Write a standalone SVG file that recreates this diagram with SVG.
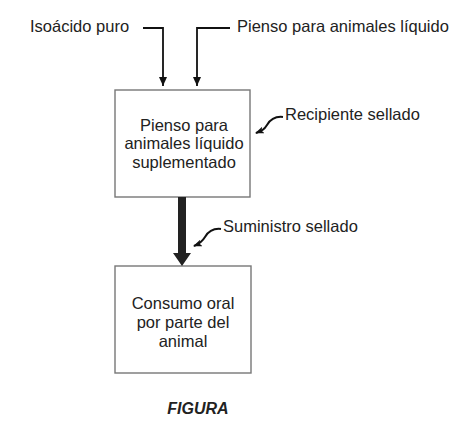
<svg xmlns="http://www.w3.org/2000/svg" width="472" height="437" viewBox="0 0 472 437">
<defs>
<style>
.t{font-family:"Liberation Sans",Arial,sans-serif;font-size:16.5px;fill:#222}
.c{text-anchor:middle}
.box{fill:#fff;stroke:#777;stroke-width:1.4}
.ln{fill:none;stroke:#111;stroke-width:1.8}
.sq{fill:none;stroke:#111;stroke-width:2}
</style>
<marker id="ah" markerWidth="9" markerHeight="8" refX="9" refY="4" orient="auto" markerUnits="userSpaceOnUse" viewBox="0 0 9 8">
<path d="M0,0 L9,4 L0,8 Z" fill="#111"/>
</marker>
<marker id="sh" markerWidth="9" markerHeight="7" refX="8" refY="3.5" orient="auto" markerUnits="userSpaceOnUse" viewBox="0 0 9 7">
<path d="M0,0 L9,3.5 L0,7 L2,3.5 Z" fill="#111"/>
</marker>
</defs>
<rect width="472" height="437" fill="#fff"/>
<g id="label-isoacido"><text class="t" x="30" y="32">Isoácido puro</text></g>
<g id="label-pienso"><text class="t" x="237" y="32">Pienso para animales líquido</text></g>
<g id="node-recipiente">
<rect class="box" x="115" y="90" width="135" height="107"/>
<text class="t c" x="184" y="131">Pienso para</text>
<text class="t c" x="184" y="149">animales líquido</text>
<text class="t c" x="184" y="168">suplementado</text>
</g>
<g id="label-recipiente"><text class="t" x="285" y="120">Recipiente sellado</text></g>
<g id="node-consumo">
<rect class="box" x="115" y="266" width="136" height="107"/>
<text class="t c" x="183" y="309">Consumo oral</text>
<text class="t c" x="183" y="328">por parte del</text>
<text class="t c" x="183" y="347">animal</text>
</g>
<g id="label-suministro"><text class="t" x="223" y="232">Suministro sellado</text></g>
<g id="label-figura"><text x="198" y="414" text-anchor="middle" style="font-family:'Liberation Sans',Arial,sans-serif;font-size:16px;font-weight:bold;font-style:italic;fill:#222">FIGURA</text></g>
<g id="connectors">
<path class="ln" d="M143,28 H163 V86" marker-end="url(#ah)"/>
<path class="ln" d="M230,28 H197 V86" marker-end="url(#ah)"/>
<path d="M178,197 V253 H173 L182,266 L191,253 H186 V197 Z" fill="#222"/>
<path class="sq" d="M283,117 C274,116 270,120 267,125 C264,130 261,131 256,133" marker-end="url(#sh)"/>
<path class="sq" d="M221,229 C212,228 208,232 205,237 C202,242 199,244 194,246" marker-end="url(#sh)"/>
</g>
</svg>
